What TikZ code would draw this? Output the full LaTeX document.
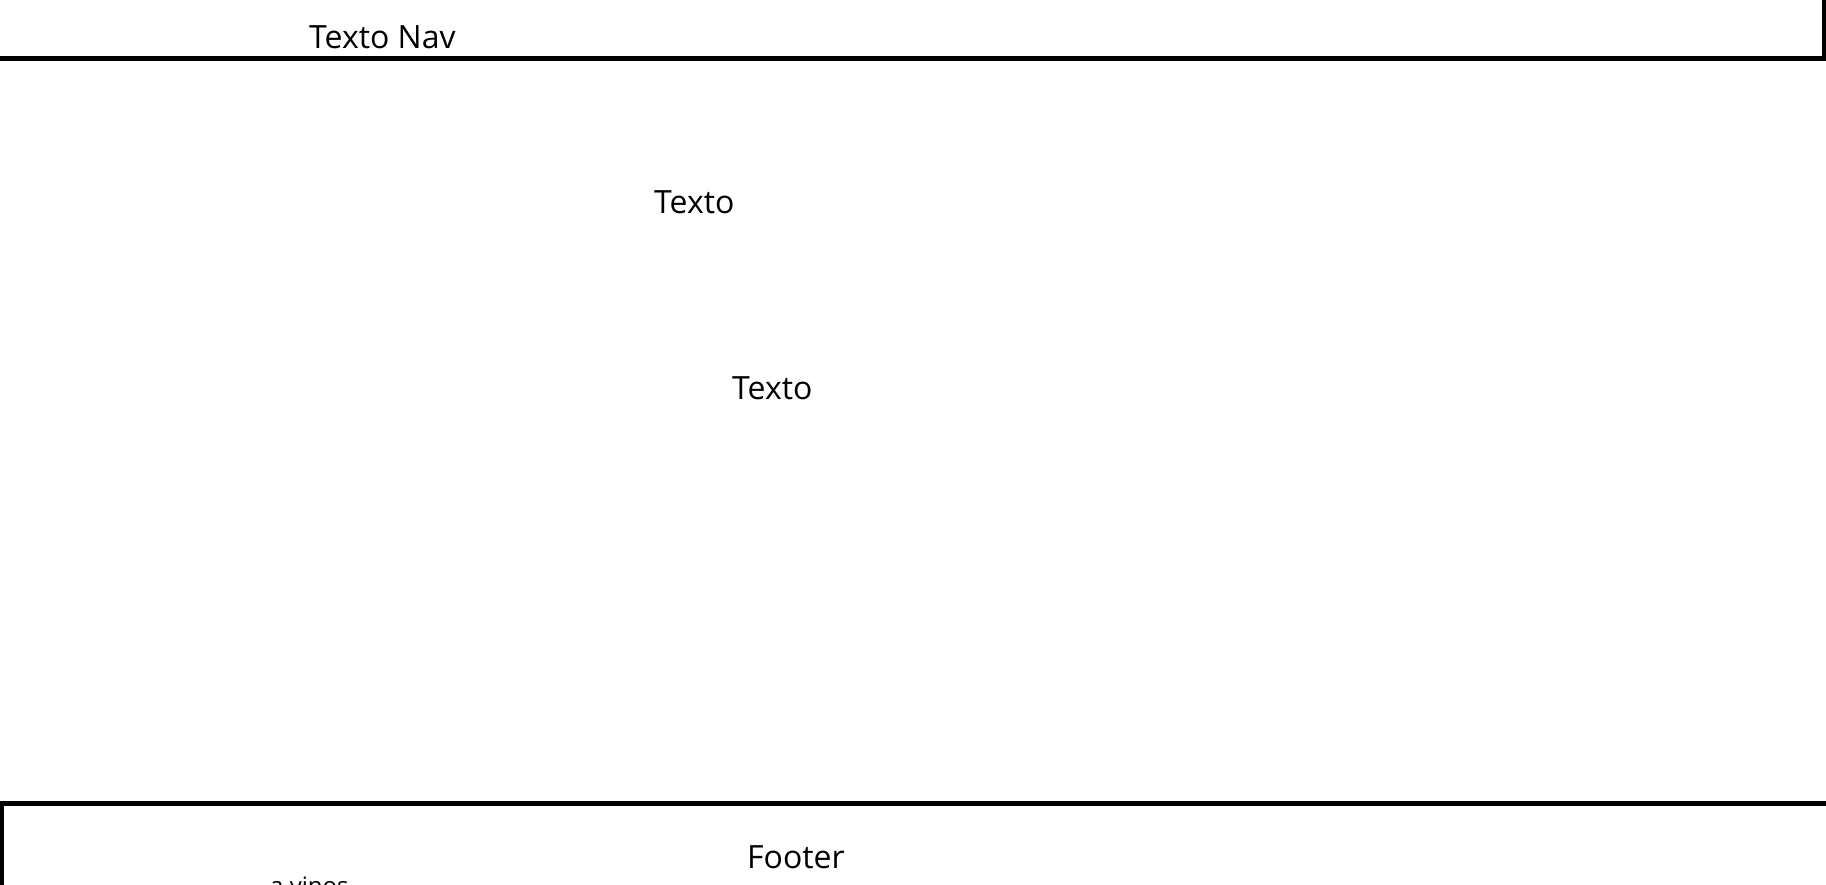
\documentclass[tikz,border=0pt]{standalone}
\usepackage{fontspec}
\setmainfont{Open Sans}
\begin{document}
\begin{tikzpicture}[x=1pt,y=-1pt,
  frame/.style={draw=black,line width=5pt},
  lbl/.style={inner sep=0pt,anchor=base west,font=\fontsize{32}{38}\selectfont}]
\useasboundingbox (0,0) rectangle (1826,885);
\clip (0,0) rectangle (1826,885);
\fill[white] (0,0) rectangle (1826,885);
% nav bar
\draw[frame] (-20,-20) rectangle (1824,58.5);
\node[lbl] (nav) at (309,49) {Texto Nav};
% body texts
\node[lbl] (t1) at (654,214) {Texto};
\node[lbl] (t2) at (732,399) {Texto};
% footer
\draw[frame] (1.5,803.5) rectangle (1850,920);
\node[lbl] (foot) at (747,868) {Footer};
\node[lbl,font=\fontsize{24}{28}\selectfont] (cut) at (270,894.5) {a vinos};
\end{tikzpicture}
\end{document}
